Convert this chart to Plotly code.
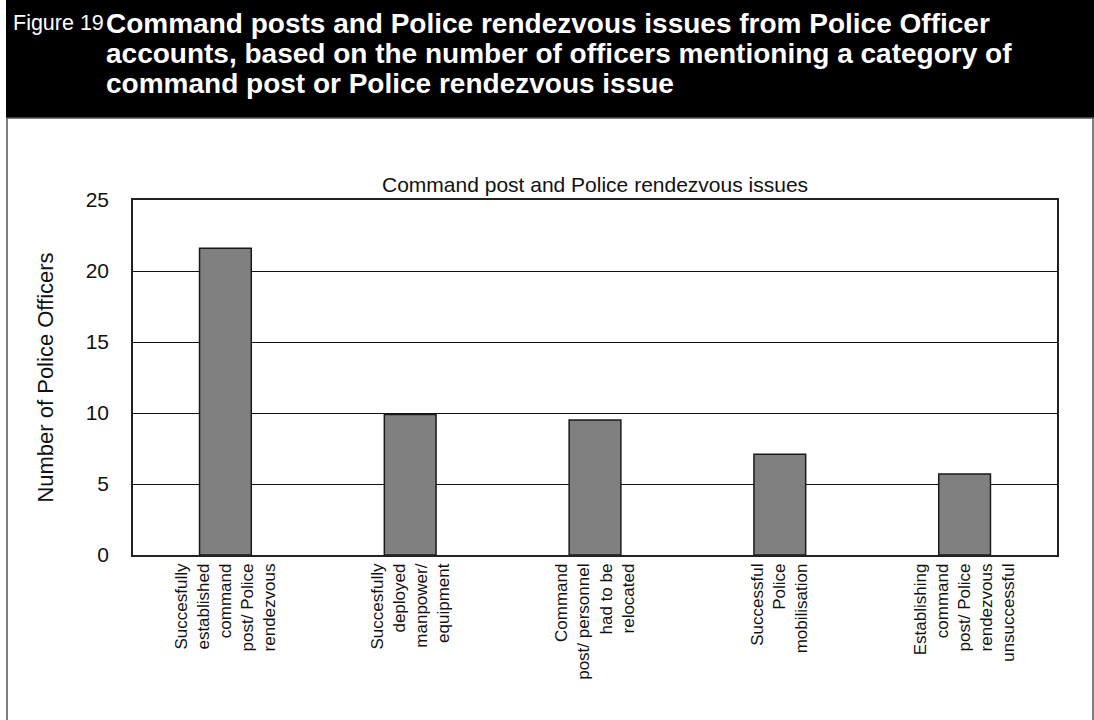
import plotly.graph_objects as go

categories = [
    "Succesfully<br>established<br>command<br>post/ Police<br>rendezvous",
    "Succesfully<br>deployed<br>manpower/<br>equipment",
    "Command<br>post/ personnel<br>had to be<br>relocated",
    "Successful<br>Police<br>mobilisation",
    "Establishing<br>command<br>post/ Police<br>rendezvous<br>unsuccessful",
]
values = [21.6, 9.9, 9.5, 7.1, 5.7]
y_ticks = [0, 5, 10, 15, 20, 25]

header_prefix = "Figure 19"
header_lines = [
    "Command posts and Police rendezvous issues from Police Officer",
    "accounts, based on the number of officers mentioning a category of",
    "command post or Police rendezvous issue",
]
chart_title = "Command post and Police rendezvous issues"
y_title = "Number of Police Officers"

W, H = 1094, 720
L, R, T, B = 133, 37, 200, 165
PW, PH = W - L - R, H - T - B


def px2x(px):
    return (px - L) / PW


def py2y(py):
    return (H - B - py) / PH


FONT = "Liberation Sans, Arial, Helvetica, sans-serif"

fig = go.Figure()
fig.add_trace(go.Bar(
    x=list(range(len(categories))),
    y=values,
    marker=dict(color="#808080", line=dict(color="#1a1a1a", width=1.5)),
    width=0.28,
    hoverinfo="skip",
))

shapes = [
    # black header band
    dict(type="rect", xref="paper", yref="paper",
         x0=px2x(6), x1=px2x(W + 2), y0=py2y(118), y1=py2y(-2),
         fillcolor="black", line=dict(width=0), layer="below"),
    # outer border box
    dict(type="rect", xref="paper", yref="paper",
         x0=px2x(7), x1=px2x(1093), y0=py2y(724), y1=py2y(118),
         fillcolor="rgba(0,0,0,0)", line=dict(color="#555555", width=1.5), layer="below"),
]

annotations = [
    dict(text=header_prefix, xref="paper", yref="paper", x=px2x(11), y=py2y(23),
         xanchor="left", yanchor="middle", showarrow=False,
         font=dict(family=FONT, size=21.5, color="white")),
]
for i, line in enumerate(header_lines):
    annotations.append(dict(
        text="<b>" + line + "</b>", xref="paper", yref="paper",
        x=px2x(104), y=py2y(23 + 30 * i), xanchor="left", yanchor="middle",
        showarrow=False, font=dict(family=FONT, size=28, color="white")))
annotations.append(dict(
    text=chart_title, xref="paper", yref="paper", x=0.5, y=py2y(184),
    xanchor="center", yanchor="middle", showarrow=False,
    font=dict(family=FONT, size=21, color="#111111")))

fig.update_layout(
    width=W, height=H,
    margin=dict(l=L, r=R, t=T, b=B, pad=0),
    paper_bgcolor="white", plot_bgcolor="white",
    showlegend=False,
    shapes=shapes,
    annotations=annotations,
    xaxis=dict(
        tickmode="array", tickvals=list(range(len(categories))), ticktext=categories,
        tickangle=-90, range=[-0.5, len(categories) - 0.5],
        showline=True, linecolor="#222222", linewidth=1.5, mirror=True,
        showgrid=False, ticks="", ticklen=0,
        tickfont=dict(family=FONT, size=17, color="#111111"),
    ),
    yaxis=dict(
        range=[0, 25], tickvals=y_ticks,
        showline=True, linecolor="#222222", linewidth=1.5, mirror=True,
        showgrid=True, gridcolor="#111111", gridwidth=1.3,
        zeroline=False, ticks="", ticklabelstandoff=18,
        tickfont=dict(family=FONT, size=21, color="#111111"),
        title=dict(text=y_title, font=dict(family=FONT, size=22, color="#111111"), standoff=26),
    ),
)

fig.write_html("out.html", config={"displayModeBar": False},
               post_script="document.body.style.margin='0';")
